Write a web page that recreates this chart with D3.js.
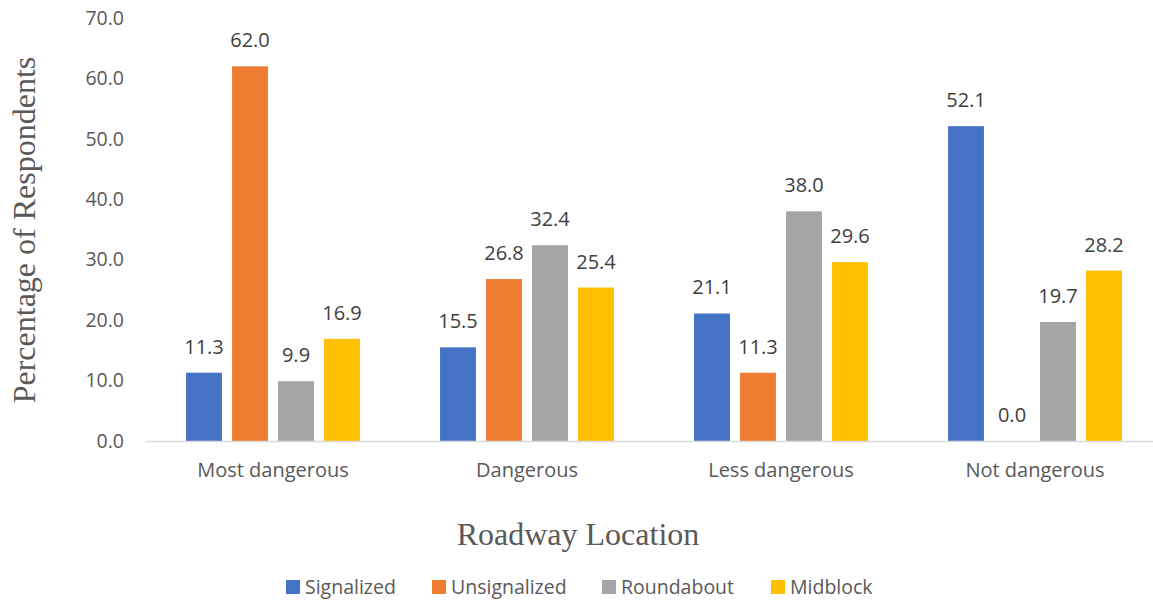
<!DOCTYPE html>
<html>
<head>
<meta charset="utf-8">
<script src="https://cdn.jsdelivr.net/npm/d3@7"></script>
<style>
  body { margin: 0; background: #fff; }
  svg { display: block; }
</style>
</head>
<body>
<div id="chart"></div>
<script>
// Data
const categories = ["Most dangerous", "Dangerous", "Less dangerous", "Not dangerous"]
const seriesNames = ["Signalized", "Unsignalized", "Roundabout", "Midblock"]
const signalized = [11.3, 15.5, 21.1, 52.1]
const unsignalized = [62.0, 26.8, 11.3, 0.0]
const roundabout = [9.9, 32.4, 38.0, 19.7]
const midblock = [16.9, 25.4, 29.6, 28.2]
const yTicks = [0, 10, 20, 30, 40, 50, 60, 70]

const seriesValues = [signalized, unsignalized, roundabout, midblock]
const colors = ["#4472c4", "#ed7d31", "#a5a5a5", "#ffc000"]

const width = 1153
const height = 601

const svg = d3.select("#chart")
    .append("svg")
    .attr("width", width)
    .attr("height", height)

// Scales
const x0 = d3.scaleBand()
    .domain(categories)
    .range([146, 1162])

const x1 = d3.scaleBand()
    .domain(seriesNames)
    .range([x0.bandwidth() / 2 - 92, x0.bandwidth() / 2 + 92])
    .paddingInner(0.22)
    .paddingOuter(0.11)

const y = d3.scaleLinear()
    .domain([0, 70])
    .range([441, 18])

// Y axis tick labels
const yAxis = svg.append("g")
    .attr("transform", "translate(146,0)")
    .call(d3.axisLeft(y).tickValues(yTicks).tickFormat(d3.format(".1f")).tickSize(0).tickPadding(22))
yAxis.select(".domain").remove()
yAxis.selectAll("text")
    .style("font-family", "'Open Sans', sans-serif")
    .style("font-size", "19.5px")
    .style("fill", "#595959")

// Bars
const rows = categories.map((c, i) => ({
    category: c,
    values: seriesNames.map((s, j) => ({ series: s, value: seriesValues[j][i], color: colors[j] }))
}))

const groups = svg.append("g").selectAll("g")
    .data(rows)
    .join("g")
    .attr("transform", d => "translate(" + x0(d.category) + ",0)")

groups.selectAll("rect")
    .data(d => d.values)
    .join("rect")
    .attr("x", d => x1(d.series))
    .attr("width", x1.bandwidth())
    .attr("y", d => y(d.value))
    .attr("height", d => y(0) - y(d.value))
    .style("fill", d => d.color)

groups.selectAll("text")
    .data(d => d.values)
    .join("text")
    .attr("x", d => x1(d.series) + x1.bandwidth() / 2)
    .attr("y", d => y(d.value) - 19)
    .attr("text-anchor", "middle")
    .style("font-family", "'Open Sans', sans-serif")
    .style("font-size", "20px")
    .style("fill", "#404040")
    .text(d => d.value.toFixed(1))

// Baseline
svg.append("line")
    .attr("x1", 146).attr("x2", 1153)
    .attr("y1", y(0) + 0.5).attr("y2", y(0) + 0.5)
    .style("stroke", "#d9d9d9")
    .style("stroke-width", 1.5)

// X axis labels
const xAxis = svg.append("g")
    .attr("transform", "translate(0," + y(0) + ")")
    .call(d3.axisBottom(x0).tickSize(0).tickPadding(22))
xAxis.select(".domain").remove()
xAxis.selectAll("text")
    .style("font-family", "'Open Sans', sans-serif")
    .style("font-size", "20px")
    .style("fill", "#595959")

// Axis titles
svg.append("text")
    .attr("transform", "translate(35,230) rotate(-90)")
    .attr("text-anchor", "middle")
    .style("font-family", "'Liberation Serif', serif")
    .style("font-size", "32px")
    .style("fill", "#595959")
    .text("Percentage of Respondents")

svg.append("text")
    .attr("x", 578)
    .attr("y", 545)
    .attr("text-anchor", "middle")
    .style("font-family", "'Liberation Serif', serif")
    .style("font-size", "32px")
    .style("fill", "#595959")
    .text("Roadway Location")

// Legend
const legendX = [286, 432, 602, 771]
const legend = svg.append("g").selectAll("g")
    .data(seriesNames)
    .join("g")
    .attr("transform", (d, i) => "translate(" + legendX[i] + ",580)")

legend.append("rect")
    .attr("width", 14)
    .attr("height", 14)
    .style("fill", (d, i) => colors[i])

legend.append("text")
    .attr("x", 19)
    .attr("y", 14)
    .style("font-family", "'Open Sans', sans-serif")
    .style("font-size", "19.5px")
    .style("fill", "#595959")
    .text(d => d)
</script>
</body>
</html>
